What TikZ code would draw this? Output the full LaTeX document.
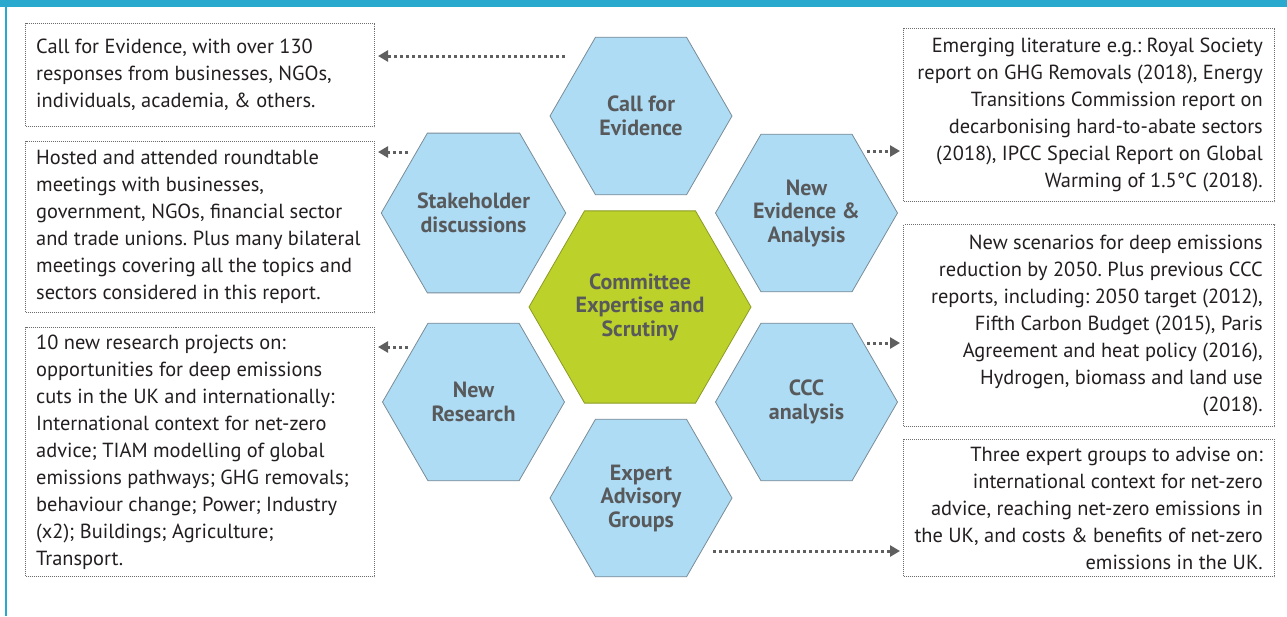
\documentclass[tikz,border=0pt]{standalone}
\usepackage{fontspec}
\setmainfont{PT Sans}
\frenchspacing
\usetikzlibrary{shapes.geometric,arrows.meta}
\definecolor{bandcol}{HTML}{29A9CE}
\definecolor{hexblue}{HTML}{AEDCF5}
\definecolor{hexedge}{HTML}{7A8C96}
\definecolor{hexgreen}{HTML}{BDD12B}
\definecolor{greenedge}{HTML}{8C9A22}
\definecolor{labelgray}{HTML}{58595B}
\definecolor{boxedge}{HTML}{6D6D6D}
\definecolor{arrowgray}{HTML}{5F5F5F}
\definecolor{bodytext}{HTML}{231F20}
\begin{document}
\begin{tikzpicture}[x=1pt,y=-1pt,
  hexb/.style={regular polygon, regular polygon sides=6, minimum size=182pt, inner sep=0pt,
    fill=hexblue, draw=hexedge, line width=0.8pt,
    font=\fontsize{22}{23.5}\selectfont\bfseries, text=labelgray, align=center},
  hexg/.style={hexb, minimum size=222pt, fill=hexgreen, draw=greenedge},
  infobox/.style={draw=boxedge, line width=1pt, dash pattern=on 1pt off 1pt, inner sep=0pt,
    anchor=north west},
  lbox/.style={infobox, minimum width=349pt},
  rbox/.style={infobox, minimum width=371pt},
  btext/.style={inner sep=0pt, font=\fontsize{20.4}{27}\selectfont, text=bodytext},
  ltext/.style={btext, align=left, anchor=west, xshift=11pt},
  rtext/.style={btext, align=right, anchor=east, xshift=-12pt},
  arr/.style={draw=arrowgray, line width=3pt, dash pattern=on 3pt off 3pt, shorten >=3pt,
    -{Triangle[length=10pt,width=11pt]}}
]
\useasboundingbox (0,0) rectangle (1287,616);
\fill[white] (0,0) rectangle (1287,616);
\fill[bandcol] (0,0) rectangle (1287,7);
\fill[bandcol] (5,0) rectangle (7,616);

% hexagons
\node[hexb] (call) at (641,116) {Call for\\Evidence};
\node[hexb] (stake) at (473.5,213) {Stakeholder\\discussions};
\node[hexb] (newev) at (806.5,213) {New\\Evidence \&\\Analysis};
\node[hexg] (comm) at (640,307) {Committee\\Expertise and\\Scrutiny};
\node[hexb] (newres) at (473.5,402) {New\\Research};
\node[hexb] (ccc) at (806.5,402) {CCC\\analysis};
\node[hexb] (expert) at (641,498) {Expert\\Advisory\\Groups};

% left boxes
\node[lbox, minimum height=103pt] (lb1) at (25,23) {};
\node[ltext] (lt1) at (lb1.west) {Call for Evidence, with over 130\\responses from businesses, NGOs,\\individuals, academia, \& others.};
\node[lbox, minimum height=171pt] (lb2) at (25,141) {};
\node[ltext] (lt2) at (lb2.west) {Hosted and attended roundtable\\meetings with businesses,\\government, NGOs, financial sector\\and trade unions. Plus many bilateral\\meetings covering all the topics and\\sectors considered in this report.};
\node[lbox, minimum height=249pt] (lb3) at (25,327) {};
\node[ltext] (lt3) at (lb3.west) {10 new research projects on:\\opportunities for deep emissions\\cuts in the UK and internationally:\\International context for net-zero\\advice; TIAM modelling of global\\emissions pathways; GHG removals;\\behaviour change; Power; Industry\\(x2); Buildings; Agriculture;\\Transport.};

% right boxes
\node[rbox, minimum height=173pt] (rb1) at (903,28) {};
\node[rtext] (rt1) at (rb1.east) {Emerging literature e.g.: Royal Society\\report on GHG Removals (2018), Energy\\Transitions Commission report on\\decarbonising hard-to-abate sectors\\(2018), IPCC Special Report on Global\\Warming of 1.5°C (2018).};
\node[rbox, minimum height=202pt] (rb2) at (903,224) {};
\node[rtext] (rt2) at (rb2.east) {New scenarios for deep emissions\\reduction by 2050. Plus previous CCC\\reports, including: 2050 target (2012),\\Fifth Carbon Budget (2015), Paris\\Agreement and heat policy (2016),\\Hydrogen, biomass and land use\\(2018).};
\node[rbox, minimum height=137pt] (rb3) at (903,439) {};
\node[rtext] (rt3) at (rb3.east) {Three expert groups to advise on:\\international context for net-zero\\advice, reaching net-zero emissions in\\the UK, and costs \& benefits of net-zero\\emissions in the UK.};

% arrow start points
\coordinate (s1) at (565,56);
\coordinate (s2) at (408,152);
\coordinate (s3) at (408,347);
\coordinate (s4) at (867,151);
\coordinate (s5) at (867,343);
\coordinate (s6) at (713,551);

\draw[arr] (s1) -- (s1 -| lb1.east);
\draw[arr] (s2) -- (s2 -| lb2.east);
\draw[arr] (s3) -- (s3 -| lb3.east);
\draw[arr] (s4) -- (s4 -| rb1.west);
\draw[arr] (s5) -- (s5 -| rb2.west);
\draw[arr] (s6) -- (s6 -| rb3.west);
\end{tikzpicture}
\end{document}
